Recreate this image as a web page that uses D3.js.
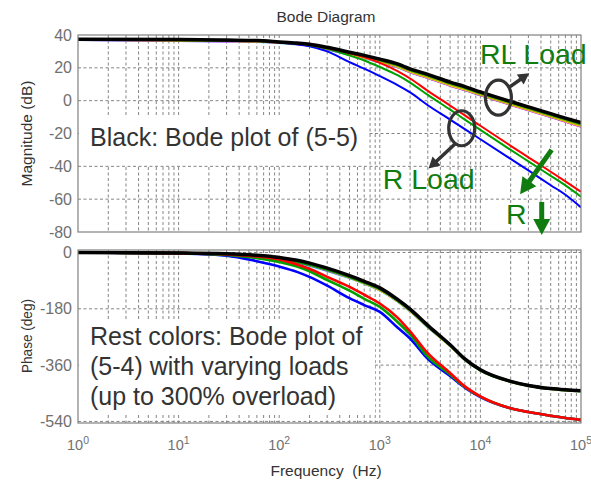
<!DOCTYPE html>
<html>
<head>
<meta charset="utf-8">
<script src="https://cdn.jsdelivr.net/npm/d3@7"></script>
<style>
  body { margin: 0; background: #fff; }
  svg { display: block; font-family: "Liberation Sans", Arial, sans-serif; }
</style>
</head>
<body>
<script>
// frequency points (Hz) shared by every trace
var freqs = [1, 10, 30, 60, 100, 150, 200, 300, 500, 700, 1000, 1500, 2000, 3000,
             5000, 7000, 10000, 20000, 30000, 50000, 70000, 100000];

// magnitude (dB)
var magBlack   = [37.4, 37.2, 36.9, 36.6, 35.8, 35.1, 34.4, 32.5, 29.5, 27.6, 25.3, 22.4, 19.4, 16.0, 11.3, 8.6, 5.3, -0.5, -3.8, -7.9, -10.6, -13.3];
var magRLgreen = [37.2, 36.8, 36.5, 36.3, 35.6, 34.9, 34.1, 32.1, 29.0, 27.0, 24.6, 21.7, 18.7, 15.3, 10.6, 7.9, 4.6, -1.2, -4.5, -8.6, -11.4, -14.2];
var magRLolive = [37.1, 36.7, 36.4, 36.2, 35.5, 34.7, 33.9, 31.8, 28.6, 26.5, 24.0, 21.1, 18.0, 14.6, 9.9, 7.2, 3.9, -1.9, -5.2, -9.3, -12.1, -15.0];
var magRLyellow= [37.1, 36.6, 36.3, 36.1, 35.4, 34.6, 33.7, 31.6, 28.3, 26.2, 23.7, 20.7, 17.6, 14.1, 9.4, 6.7, 3.5, -2.3, -5.6, -9.7, -12.5, -15.5];
var magRLmagenta=[37.0, 36.4, 36.1, 35.9, 35.2, 34.4, 33.5, 31.3, 28.0, 25.9, 23.4, 20.4, 17.3, 13.8, 9.1, 6.4, 3.2, -2.6, -5.9, -10.0, -12.8, -15.9];
var magRLcyan  = [37.0, 36.3, 36.0, 35.8, 35.1, 34.3, 33.4, 31.2, 27.9, 25.8, 23.3, 20.3, 17.3, 13.8, 9.1, 6.4, 3.2, -2.5, -5.8, -9.9, -12.7, -15.8];
var magRred    = [37.3, 37.1, 36.8, 36.5, 35.7, 34.9, 34.0, 32.0, 28.8, 26.5, 23.0, 18.0, 13.5, 6.0, -3.0, -9.0, -15.3, -27.5, -34.5, -43.3, -49.2, -55.5];
var magRgreen  = [37.3, 37.1, 36.8, 36.4, 35.7, 34.8, 33.8, 31.6, 27.5, 24.5, 20.5, 15.5, 11.0, 3.5, -5.5, -11.5, -17.8, -30.0, -37.0, -45.8, -51.6, -58.5];
var magRblue   = [37.3, 37.1, 36.7, 36.3, 35.5, 34.3, 33.2, 30.0, 23.5, 19.5, 15.0, 9.5, 5.0, -2.8, -11.5, -17.3, -23.5, -35.5, -42.5, -51.5, -57.3, -65.0];

// phase (deg)
var phBlack    = [0, -1.5, -4, -9, -16, -25, -34, -50, -74, -92, -113, -150, -181, -233, -295, -340, -375, -412, -425, -435, -439, -442];
var phRLgreen  = [0, -2, -7, -13, -21, -30, -39, -55, -78, -96, -117, -153, -184, -235, -296, -341, -376, -412, -425, -435, -439, -442];
var phRLolive  = [0, -2, -6, -12, -20, -29, -38, -54, -78, -96, -117, -153, -184, -235, -296, -341, -376, -412, -425, -435, -439, -442];
var phRLyellow = [0, -2, -6, -12, -20, -29, -38, -55, -79, -98, -119, -155, -186, -237, -298, -342, -377, -413, -426, -436, -440, -443];
var phRLmagenta= [0, -3, -8, -14, -22, -31, -40, -57, -80, -98, -119, -155, -186, -237, -297, -341, -376, -412, -425, -435, -439, -442];
var phRLcyan   = [0, -3, -9, -16, -24, -33, -42, -58, -81, -99, -120, -156, -187, -238, -298, -342, -377, -413, -426, -436, -440, -443];
var phRred     = [0, -2, -6, -13, -22, -38, -52, -78, -110, -135, -163, -208, -252, -322, -385, -428, -460, -498, -510, -522, -529, -535];
var phRgreen   = [0, -2, -8, -18, -30, -45, -60, -88, -122, -148, -174, -222, -262, -333, -390, -430, -461, -498, -510, -522, -529, -535];
var phRblue    = [0, -2, -10, -28, -45, -62, -78, -106, -146, -168, -190, -240, -275, -340, -395, -432, -462, -498, -510, -522, -529, -535];

var magTicks = [40, 20, 0, -20, -40, -60, -80];
var phaseTicks = [0, -180, -360, -540];
var decadeExps = [0, 1, 2, 3, 4, 5];

// draw order: RL loads underneath, then R loads, black (5-5) on top
var series = [
  { color: "#00e5e5", mag: magRLcyan,    ph: phRLcyan },
  { color: "#ff00ff", mag: magRLmagenta, ph: phRLmagenta },
  { color: "#e8e800", mag: magRLyellow,  ph: phRLyellow },
  { color: "#a8a800", mag: magRLolive,   ph: phRLolive },
  { color: "#00a000", mag: magRLgreen,   ph: phRLgreen },
  { color: "#0000ff", mag: magRblue,     ph: phRblue },
  { color: "#00a000", mag: magRgreen,    ph: phRgreen },
  { color: "#ff0000", mag: magRred,      ph: phRred },
  { color: "#000000", mag: magBlack,     ph: phBlack, black: true }
];

var width = 591, height = 485;
var left = 78, right = 581;
var magTop = 35, magBottom = 232;
var phTop = 250, phBottom = 423;

var x = d3.scaleLog().domain([1, 1e5]).range([left, right]);
var yMag = d3.scaleLinear().domain([-80, 40]).range([magBottom, magTop]);
var yPh = d3.scaleLinear().domain([-545, 8]).range([phBottom, phTop]);

var svg = d3.select("body").append("svg")
    .attr("width", width)
    .attr("height", height);

var defs = svg.append("defs");
defs.append("clipPath").attr("id", "clipMag").append("rect")
    .attr("x", left).attr("y", magTop).attr("width", right - left).attr("height", magBottom - magTop);
defs.append("clipPath").attr("id", "clipPh").append("rect")
    .attr("x", left).attr("y", phTop).attr("width", right - left).attr("height", phBottom - phTop);

// minor + major vertical grid values (1..9 x 10^k)
var gridFreqs = [];
for (var k = 0; k < 5; k++) {
  for (var m = 1; m < 10; m++) {
    if (k === 0 && m === 1) continue;
    gridFreqs.push(m * Math.pow(10, k));
  }
}

function drawPanel(y, top, bottom, ticks, hGrid) {
  var g = svg.append("g");
  g.selectAll(".vgrid").data(gridFreqs).enter().append("line")
      .attr("class", "vgrid")
      .attr("x1", d => x(d)).attr("x2", d => x(d))
      .attr("y1", top).attr("y2", bottom)
      .attr("stroke", "#858585").attr("stroke-width", 1)
      .attr("stroke-dasharray", "3,2.5");
  g.selectAll(".hgrid").data(hGrid).enter().append("line")
      .attr("class", "hgrid")
      .attr("x1", left).attr("x2", right)
      .attr("y1", d => y(d)).attr("y2", d => y(d))
      .attr("stroke", "#858585").attr("stroke-width", 1)
      .attr("stroke-dasharray", "3,2.5");
  g.selectAll(".ytick").data(ticks).enter().append("text")
      .attr("class", "ytick")
      .attr("x", left - 6)
      .attr("y", d => y(d))
      .attr("dy", "0.35em")
      .attr("text-anchor", "end")
      .attr("font-size", 16)
      .attr("fill", "#707070")
      .text(d => d);
  return g;
}

var magPanel = drawPanel(yMag, magTop, magBottom, magTicks, [20, 0, -20, -40, -60]);
var phPanel = drawPanel(yPh, phTop, phBottom, phaseTicks, [0, -180, -360, -540]);

// white boxes behind the black annotation texts
svg.append("rect")
    .attr("x", left + 1).attr("y", 115)
    .attr("width", 289).attr("height", 50)
    .attr("fill", "#fff");
svg.append("rect")
    .attr("x", left + 1).attr("y", 320)
    .attr("width", 296).attr("height", 94)
    .attr("fill", "#fff");

svg.append("text")
    .attr("x", 90).attr("y", 146)
    .attr("font-size", 25)
    .attr("fill", "#333")
    .text("Black: Bode plot of (5-5)");

var restLines = ["Rest colors: Bode plot of", "(5-4) with varying loads", "(up to 300% overload)"];
svg.append("g").selectAll("text").data(restLines).enter().append("text")
    .attr("x", 90)
    .attr("y", (d, i) => 345 + i * 30)
    .attr("font-size", 25)
    .attr("fill", "#333")
    .text(d => d);

// traces
var curve = d3.line().curve(d3.curveMonotoneX);
var magG = svg.append("g").attr("clip-path", "url(#clipMag)");
var phG = svg.append("g").attr("clip-path", "url(#clipPh)");

series.forEach(function(s) {
  magG.append("path")
      .attr("d", curve(freqs.map((f, i) => [x(f), yMag(s.mag[i])])))
      .attr("fill", "none")
      .attr("stroke", s.color)
      .attr("stroke-width", s.black ? 3.5 : 2)
      .attr("stroke-linejoin", "round");
  phG.append("path")
      .attr("d", curve(freqs.map((f, i) => [x(f), yPh(s.ph[i])])))
      .attr("fill", "none")
      .attr("stroke", s.color)
      .attr("stroke-width", s.black ? 3.5 : 2.6)
      .attr("stroke-linejoin", "round");
});

// axes boxes
[[magTop, magBottom], [phTop, phBottom]].forEach(function(p) {
  svg.append("rect")
      .attr("x", left).attr("y", p[0])
      .attr("width", right - left).attr("height", p[1] - p[0])
      .attr("fill", "none")
      .attr("stroke", "#808080")
      .attr("stroke-width", 1.2);
});

// x tick labels 10^k
var xl = svg.append("g").selectAll("text").data(decadeExps).enter().append("text")
    .attr("x", d => x(Math.pow(10, d)))
    .attr("y", 450)
    .attr("text-anchor", "middle")
    .attr("font-size", 14.5)
    .attr("fill", "#707070");
xl.append("tspan").text("10");
xl.append("tspan").attr("dy", -6).attr("font-size", 10.5).text(d => d);

// titles
svg.append("text")
    .attr("x", 326).attr("y", 21.5)
    .attr("text-anchor", "middle")
    .attr("font-size", 15.5)
    .attr("fill", "#333")
    .text("Bode Diagram");
svg.append("text")
    .attr("x", 326).attr("y", 475.5)
    .attr("text-anchor", "middle")
    .attr("font-size", 15.5)
    .attr("fill", "#333")
    .style("white-space", "pre")
    .text("Frequency  (Hz)");
svg.append("text")
    .attr("transform", "translate(32," + (magTop + magBottom) / 2 + ") rotate(-90)")
    .attr("text-anchor", "middle")
    .attr("font-size", 15.5)
    .attr("fill", "#333")
    .text("Magnitude (dB)");
svg.append("text")
    .attr("transform", "translate(32," + 336 + ") rotate(-90)")
    .attr("text-anchor", "middle")
    .attr("font-size", 15.5)
    .attr("textLength", 74)
    .attr("lengthAdjust", "spacingAndGlyphs")
    .attr("fill", "#333")
    .text("Phase (deg)");

// annotations, anchored in data units (Hz, dB)
var ellipses = [
  { f: 15100, db: 1.9 },
  { f: 6520, db: -16.8 }
];
var grayArrows = [
  { f0: 18800, d0: 7.7, f1: 30600, d1: 16.7 },
  { f0: 5590, d0: -26.4, f1: 3050, d1: -41.3 }
];
var greenArrows = [
  { f0: 51100, d0: -30.0, f1: 24800, d1: -57.0 },
  { f0: 40700, d0: -61.7, f1: 40700, d1: -81.8 }
];
var greenLabels = [
  { text: "RL Load", f: 9910, db: 22.2 },
  { text: "R Load", f: 1070, db: -54.0 },
  { text: "R", f: 17960, db: -75.3 }
];

svg.append("g").selectAll("ellipse").data(ellipses).enter().append("ellipse")
    .attr("cx", d => x(d.f)).attr("cy", d => yMag(d.db))
    .attr("rx", 13).attr("ry", 17.5)
    .attr("fill", "none")
    .attr("stroke", "#333")
    .attr("stroke-width", 3.2);

function arrow(d, color, w, hl, hw) {
  var x0 = x(d.f0), y0 = yMag(d.d0), x1 = x(d.f1), y1 = yMag(d.d1);
  var dx = x1 - x0, dy = y1 - y0, len = Math.sqrt(dx * dx + dy * dy);
  var ux = dx / len, uy = dy / len, nx = -uy, ny = ux;
  var bx = x1 - ux * hl, by = y1 - uy * hl;
  var g = svg.append("g");
  g.append("line")
      .attr("x1", x0).attr("y1", y0).attr("x2", bx + ux).attr("y2", by + uy)
      .attr("stroke", color).attr("stroke-width", w);
  g.append("path")
      .attr("d", "M" + x1 + "," + y1 +
                 "L" + (bx + nx * hw / 2) + "," + (by + ny * hw / 2) +
                 "L" + (bx - nx * hw / 2) + "," + (by - ny * hw / 2) + "Z")
      .attr("fill", color);
}
grayArrows.forEach(d => arrow(d, "#333", 3.5, 11, 12));
greenArrows.forEach(d => arrow(d, "#107c10", 5, 16, 17));

svg.append("g").selectAll("text").data(greenLabels).enter().append("text")
    .attr("x", d => x(d.f)).attr("y", d => yMag(d.db))
    .attr("font-size", 28.5)
    .attr("fill", "#107c10")
    .text(d => d.text);
</script>
</body>
</html>
